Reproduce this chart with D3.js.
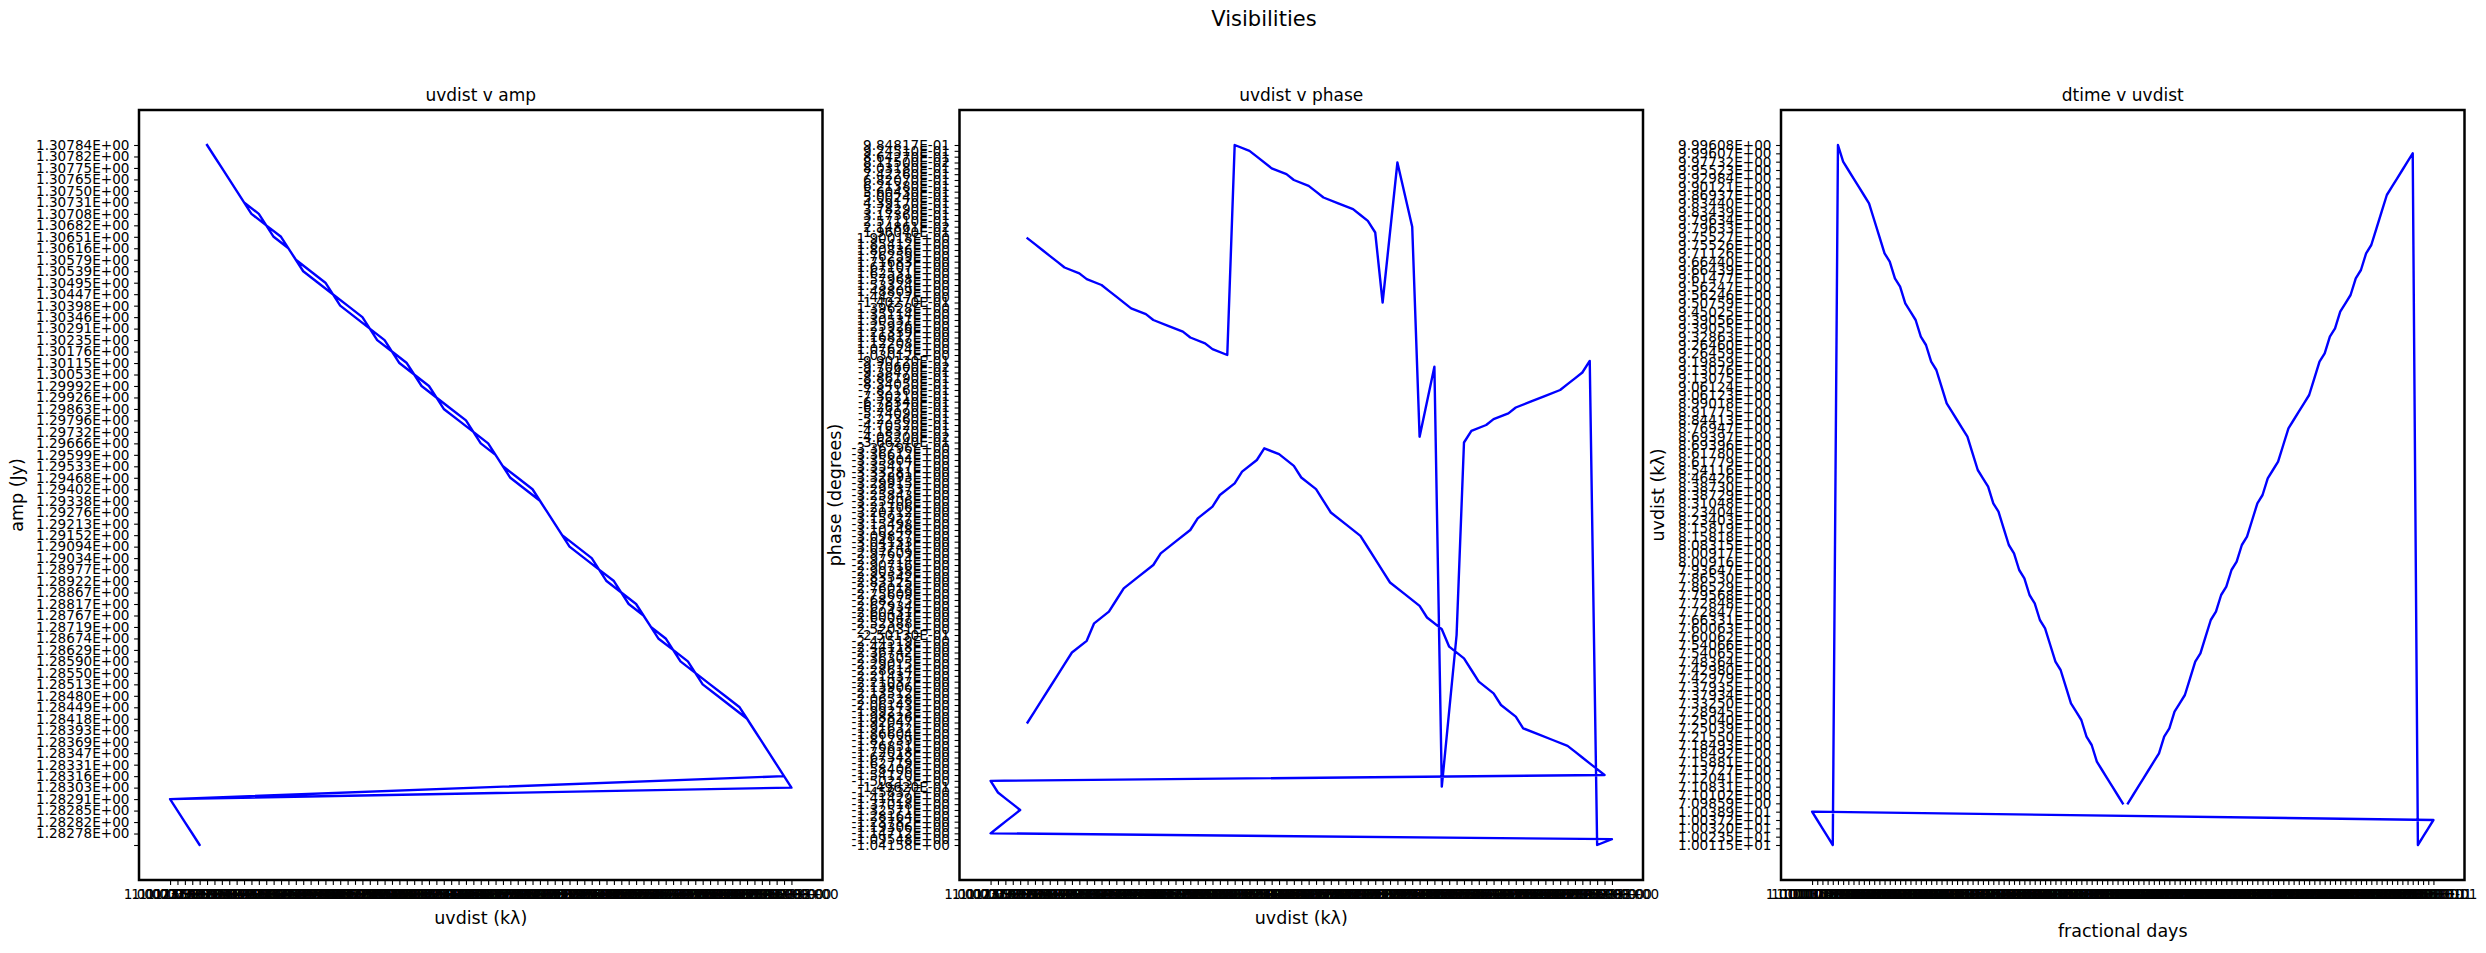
<!DOCTYPE html>
<html><head><meta charset="utf-8">
<script src="https://cdn.jsdelivr.net/npm/d3@7"></script>
<style>body{margin:0;background:#fff}</style>
</head><body><svg id="c" width="2486" height="953"></svg>
<script>
// ---- data: first scan (times < 1 day) ----
const timeA = [0.97900,0.97935,0.97970,0.98005,0.98040,0.98075,0.98110,0.98145,0.98180,0.98215,0.98250,0.98285,0.98320,0.98355,0.98390,0.98425,0.98460,0.98495,0.98530,0.98565,0.98600,0.98635,0.98670,0.98705,0.98740,0.98775,0.98810,0.98845,0.98880,0.98915,0.98950,0.98985,0.99020,0.99055,0.99090,0.99125,0.99160,0.99195,0.99230,0.99265,0.99300,0.99335,0.99370,0.99405,0.99440,0.99475,0.99510,0.99545,0.99580,0.99615,0.99650,0.99685,0.99720,0.99755,0.99790,0.99825,0.99860,0.99895,0.99930,0.99965];
const uvdistA = [7.09859,7.10102,7.10831,7.12041,7.13727,7.15881,7.18492,7.21550,7.25039,7.28945,7.33250,7.37934,7.42979,7.48364,7.54065,7.60062,7.66331,7.72847,7.79568,7.86529,7.93647,8.00916,8.08315,8.15818,8.23403,8.31048,8.38729,8.46426,8.54116,8.61779,8.69396,8.76947,8.84413,8.91775,8.99018,9.06123,9.13075,9.19859,9.26459,9.32863,9.39055,9.45025,9.50759,9.56246,9.61477,9.66439,9.71126,9.75526,9.79633,9.83439,9.86937,9.90121,9.92984,9.95523,9.97732,9.99607,10.0115,10.0235,10.0320,10.0372];
const ampA = [1.30784,1.30782,1.30775,1.30765,1.30750,1.30731,1.30708,1.30682,1.30651,1.30616,1.30579,1.30539,1.30495,1.30447,1.30398,1.30346,1.30291,1.30235,1.30176,1.30115,1.30053,1.29992,1.29926,1.29863,1.29796,1.29732,1.29666,1.29599,1.29533,1.29468,1.29402,1.29338,1.29276,1.29213,1.29152,1.29094,1.29034,1.28977,1.28922,1.28867,1.28817,1.28767,1.28719,1.28674,1.28629,1.28590,1.28550,1.28513,1.28480,1.28449,1.28418,1.28393,1.28369,1.28347,1.28331,1.28316,1.28291,1.28285,1.28282,1.28278];
const phaseA = [-1.92047,-1.99213,-2.06528,-2.13906,-2.21437,-2.29015,-2.36742,-2.44519,-2.52388,-2.60431,-2.68275,-2.76018,-2.83542,-2.90716,-2.97609,-3.04133,-3.10248,-3.15927,-3.21106,-3.25843,-3.29915,-3.33281,-3.35804,-3.36796,-3.36612,-3.35417,-3.32893,-3.29537,-3.25406,-3.20712,-3.15498,-3.09827,-3.03741,-2.97214,-2.90338,-2.83125,-2.75609,-2.67934,-2.60047,-2.52031,-2.44118,-2.36305,-2.28614,-2.21037,-2.13512,-2.06143,-1.98826,-1.91632,-1.86604,-1.81739,-1.76851,-1.72018,-1.67342,-1.62719,-1.58406,-1.54120,-1.50213,-1.45837,-1.41429,-1.37018];

// ---- data: second scan (times >= 1 day) ----
const timeB = [1.00000,1.00035,1.00070,1.00105,1.00140,1.00175,1.00210,1.00245,1.00280,1.00315,1.00350,1.00385,1.00420,1.00455,1.00490,1.00525,1.00560,1.00595,1.00630,1.00665,1.00700,1.00735,1.00770,1.00805,1.00840,1.00875,1.00910,1.00945,1.00980,1.01015,1.01050,1.01085,1.01120,1.01155,1.01190,1.01225,1.01260,1.01295,1.01330,1.01365,1.01400,1.01435,1.01470,1.01505,1.01540,1.01575,1.01610,1.01645,1.01680,1.01715,1.01750,1.01785,1.01820,1.01855,1.01890,1.01925,1.01960,1.01995,1.02030,1.02065,1.02100];
const uvdistB = [10.0389,10.0372,10.0320,10.0235,10.0115,9.99608,9.97732,9.95523,9.92984,9.90121,9.86937,9.83440,9.79634,9.75527,9.71126,9.66440,9.61477,9.56247,9.50759,9.45025,9.39056,9.32863,9.26460,9.19859,9.13076,9.06124,8.99018,8.91775,8.84413,8.76947,8.69397,8.61780,8.54116,8.46426,8.38730,8.31048,8.23404,8.15819,8.08315,8.00917,7.93647,7.86530,7.79568,7.72848,7.66331,7.60063,7.54066,7.48364,7.42980,7.37935,7.33250,7.28945,7.25040,7.21550,7.18493,7.15881,7.13727,7.12041,7.10831,7.10102,7.09859];
const ampB = [null,1.28278,1.28282,1.28285,1.28291,1.28303,1.28331,1.28347,1.28369,1.28393,1.28418,1.28449,1.28480,1.28513,1.28550,1.28590,1.28629,1.28674,1.28719,1.28767,1.28817,1.28867,1.28922,1.28977,1.29034,1.29094,1.29152,1.29213,1.29276,1.29338,1.29402,1.29468,1.29533,1.29599,1.29666,1.29732,1.29796,1.29863,1.29926,1.29992,1.30053,1.30115,1.30176,1.30235,1.30291,1.30346,1.30398,1.30447,1.30495,1.30539,1.30579,1.30616,1.30651,1.30682,1.30708,1.30731,1.30750,1.30765,1.30775,1.30782,1.30784];
const phaseB = [-1.32571,-1.28164,-1.23782,-1.19306,-1.14712,-1.09548,-1.04158,-0.99012,-0.93847,-0.88619,-0.83405,-0.78216,-0.73021,-0.67834,-0.62617,-0.57409,-0.52236,-0.47052,-0.41837,-0.36624,-0.25013,-0.14962,-0.09706,-0.04052,0.0214861,0.08115,0.14027,0.19604,0.25711,0.31736,0.37829,0.43917,0.50024,0.56043,0.62138,0.68207,0.74226,0.80318,0.86427,0.92451,0.984817,1.03012,1.07624,1.12208,1.16817,1.21339,1.25926,1.30531,1.35114,1.39628,1.44217,1.48809,1.53324,1.57968,1.62531,1.67107,1.71683,1.76259,1.80836,1.85412,1.90018];

const figTitle = "Visibilities";
const panelTitles = ["uvdist v amp", "uvdist v phase", "dtime v uvdist"];
const xLabels = ["uvdist (k\u03bb)", "uvdist (k\u03bb)", "fractional days"];
const yLabels = ["amp (Jy)", "phase (degrees)", "uvdist (k\u03bb)"];

// ---- helpers ----
function fmtE(v) {
  if (v == null) return "";
  const s = v.toExponential(5);
  const [m, e] = s.split("e");
  const sign = e[0] === "-" ? "-" : "+";
  const d = Math.abs(+e);
  return m + "E" + sign + (d < 10 ? "0" : "") + d;
}
const timeS = timeA.concat(timeB).map(fmtE);
const uvdistS = uvdistA.concat(uvdistB).map(fmtE);
const ampS = ampA.concat(ampB).map(fmtE);
const phaseS = phaseA.concat(phaseB).map(fmtE);

function cats(arr) { return Array.from(new Set(arr)).sort(); }

const FONT = "DejaVu Sans, sans-serif";
const svg = d3.select("#c");
svg.append("rect").attr("width", 2486).attr("height", 953).attr("fill", "#fff");

const TOPY = 110, BOTY = 880;
const lefts = [139, 959.5, 1781], W = 683.5;
const series = [[uvdistS, ampS], [uvdistS, phaseS], [timeS, uvdistS]];
const yLabelX = [23, 841, 1664];
const xLabelY = [924, 924, 937];

svg.append("text").attr("x", 1264).attr("y", 26).attr("text-anchor", "middle")
  .attr("font-family", FONT).attr("font-size", 21).text(figTitle);

series.forEach(([xs, ys], i) => {
  const L = lefts[i], R = L + W;
  const xc = cats(xs), yc = cats(ys);
  const x = d3.scalePoint().domain(xc).range([L, R]).padding(0.05 * (xc.length - 1));
  const y = d3.scalePoint().domain(yc).range([BOTY, TOPY]).padding(0.05 * (yc.length - 1));
  const g = svg.append("g");

  const ax = g.append("g").attr("transform", `translate(0,${BOTY})`)
    .call(d3.axisBottom(x).tickSizeOuter(0).tickSizeInner(4.9).tickPadding(4.6));
  const ay = g.append("g").attr("transform", `translate(${L},0)`)
    .call(d3.axisLeft(y).tickSizeOuter(0).tickSizeInner(4.9).tickPadding(4.6));
  [ax, ay].forEach(a => {
    a.select(".domain").remove();
    a.attr("font-family", FONT).attr("font-size", 13.6);
    a.selectAll("line").attr("stroke", "#000").attr("stroke-width", 1.1);
    a.selectAll("text").attr("fill", "#000");
  });

  const pts = xs.map((v, k) => [v, ys[k]]);
  g.append("path").datum(pts)
    .attr("fill", "none").attr("stroke", "#0000ff").attr("stroke-width", 2.4)
    .attr("stroke-linejoin", "round").attr("stroke-linecap", "square")
    .attr("d", d3.line().x(d => x(d[0])).y(d => y(d[1])));

  g.append("rect").attr("x", L).attr("y", TOPY).attr("width", W).attr("height", BOTY - TOPY)
    .attr("fill", "none").attr("stroke", "#000").attr("stroke-width", 2.5);

  g.append("text").attr("x", L + W / 2).attr("y", 101).attr("text-anchor", "middle")
    .attr("font-family", FONT).attr("font-size", 17).text(panelTitles[i]);
  g.append("text").attr("x", L + W / 2).attr("y", xLabelY[i]).attr("text-anchor", "middle")
    .attr("font-family", FONT).attr("font-size", 17.5).text(xLabels[i]);
  g.append("text").attr("transform", `translate(${yLabelX[i]},${(TOPY + BOTY) / 2}) rotate(-90)`)
    .attr("text-anchor", "middle").attr("font-family", FONT).attr("font-size", 17.5).text(yLabels[i]);
});
</script></body></html>
